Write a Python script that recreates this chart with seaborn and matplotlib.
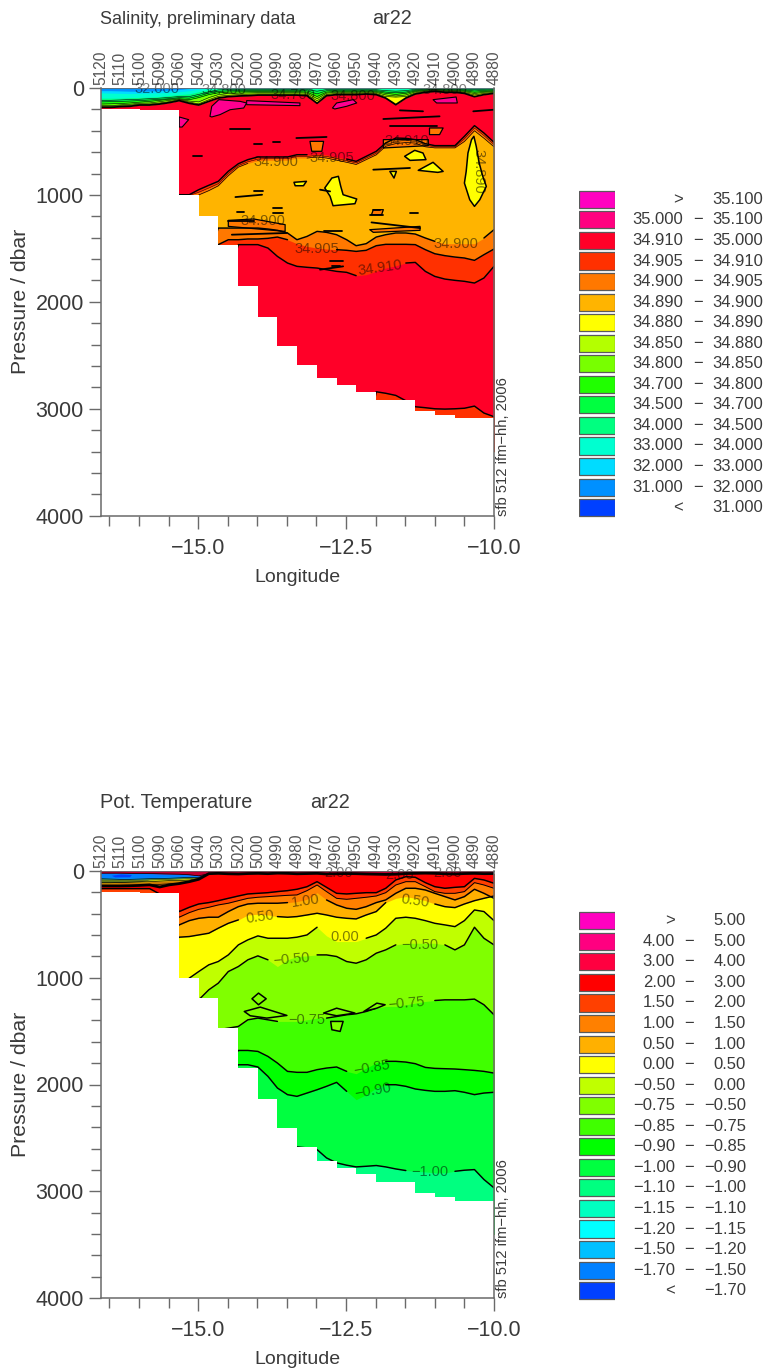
"""Salinity and potential temperature sections, cruise ar22."""
import matplotlib
matplotlib.use("Agg")
import matplotlib.pyplot as plt
import numpy as np
import pandas as pd
import seaborn as sns

W, H = 765, 1371

stations = ["5120", "5110", "5100", "5090", "5060", "5040", "5030", "5020", "5000", "4990", "4980",
            "4970", "4960", "4950", "4940", "4930", "4920", "4910", "4900", "4890", "4880"]
station_lon = [-16.65, -16.32, -15.99, -15.65, -15.32, -14.99, -14.66, -14.32, -13.99, -13.66, -13.33,
               -12.99, -12.66, -12.33, -11.99, -11.66, -11.33, -11.00, -10.66, -10.33, -10.00]
bottom_depth = [195, 195, 210, 210, 1000, 1193, 1467, 1849, 2139, 2410, 2590,
                2715, 2778, 2840, 2918, 2918, 3018, 3058, 3090, 3090, 3090]
# stations and the midpoints between them, all isolines are read at these
half_lon = [-16.65, -16.48, -16.32, -16.15, -15.99, -15.82, -15.65, -15.49, -15.32, -15.15, -14.99,
            -14.82, -14.66, -14.49, -14.32, -14.16, -13.99, -13.82, -13.66, -13.49, -13.33, -13.16,
            -12.99, -12.83, -12.66, -12.49, -12.33, -12.16, -11.99, -11.83, -11.66, -11.49, -11.33,
            -11.16, -11.00, -10.83, -10.66, -10.50, -10.33, -10.17, -10.00]

# salinity isolines, dbar
sal_320 = [25, 25, 27, 30, 30, 28, 25, 20, 15, 5, 0] + [0] * 30
sal_330 = [45, 48, 50, 52, 50, 48, 45, 40, 35, 25, 10] + [0] * 30
sal_340 = [95, 95, 95, 90, 88, 85, 80, 70, 62, 55, 35, 15, 6, 5, 5, 5, 5, 5, 5, 5, 5, 5, 8, 5, 5, 5, 5, 5, 5,
           10, 14, 10, 5, 4, 4, 4, 4, 4, 6, 5, 4]
sal_345 = [115, 115, 112, 108, 105, 100, 95, 88, 80, 80, 60, 35, 18, 15, 15, 15, 14, 14, 14, 14, 14, 15, 30, 15,
           14, 14, 14, 14, 16, 25, 30, 25, 12, 8, 8, 8, 8, 10, 15, 12, 10]
sal_347 = [130, 128, 125, 122, 118, 112, 106, 100, 90, 95, 75, 48, 32, 26, 25, 25, 24, 24, 24, 24, 24, 26, 55, 26,
           24, 24, 24, 22, 25, 38, 45, 38, 20, 14, 12, 14, 14, 18, 28, 22, 18]
sal_348 = [150, 148, 145, 140, 132, 125, 115, 106, 100, 110, 90, 62, 45, 38, 36, 35, 34, 34, 34, 34, 34, 38, 80, 38,
           32, 32, 32, 30, 34, 50, 60, 50, 28, 20, 16, 20, 20, 26, 40, 32, 26]
sal_3485 = [165, 165, 158, 152, 142, 140, 128, 116, 105, 122, 130, 90, 62, 52, 48, 46, 44, 44, 44, 44, 44, 48, 100,
            48, 40, 40, 40, 38, 42, 65, 75, 65, 36, 26, 20, 26, 26, 34, 52, 40, 34]
sal_3488 = [172, 172, 166, 162, 150, 150, 140, 128, 110, 132, 148, 110, 78, 68, 62, 58, 55, 55, 55, 55, 55, 60, 120,
            60, 50, 50, 50, 46, 52, 80, 85, 80, 46, 32, 25, 32, 32, 42, 65, 50, 42]
sal_top = [181, 181, 175, 171, 159, 159, 150, 137, 118, 143, 159, 125, 94, 81, 75, 72, 66, 66, 66, 66, 66, 72, 143,
           72, 62, 62, 62, 56, 62, 94, 156, 94, 56, 40, 31, 40, 40, 50, 81, 62, 50]
sal_u910 = [1050] * 8 + [998, 998, 951, 910, 873, 779, 708, 670, 645, 645, 645, 645, 624, 624, 614, 624, 645, 664,
                         686, 639, 592, 514, 468, 471, 483, 521, 539, 539, 539, 452, 352, 421, 508]
sal_u905 = [1100] * 9 + [1005, 975, 935, 895, 800, 725, 690, 665, 660, 660, 660, 640, 640, 630, 640, 660, 680, 700,
                         655, 610, 530, 500, 490, 500, 535, 550, 550, 550, 475, 375, 445, 530]
sal_u900 = [1150] * 10 + [1000, 960, 915, 820, 740, 705, 680, 675, 675, 675, 655, 655, 645, 655, 675, 695, 715, 670,
                          625, 545, 520, 510, 515, 550, 560, 560, 560, 500, 400, 470, 550]
sal_l900 = [1600] * 12 + [1310, 1310, 1310, 1310, 1310, 1319, 1331, 1356, 1419, 1388, 1341, 1350, 1372, 1419, 1475,
                          1456, 1394, 1372, 1356, 1356, 1366, 1403, 1434, 1456, 1456, 1456, 1456, 1403, 1325]
sal_l905 = [1600] * 12 + [1465, 1419, 1419, 1412, 1412, 1406, 1394, 1419, 1456, 1481, 1497, 1506, 1512, 1518, 1528,
                          1518, 1475, 1462, 1462, 1462, 1465, 1512, 1550, 1568, 1581, 1590, 1612, 1559, 1506]
sal_l910 = [1800] * 14 + [1465, 1465, 1465, 1497, 1575, 1637, 1668, 1677, 1684, 1699, 1715, 1724, 1755, 1746, 1715,
                          1684, 1662, 1637, 1631, 1715, 1762, 1787, 1799, 1808, 1824, 1777, 1668]
sal_d910 = [3300] * 28 + [2841, 2855, 2875, 2925, 2981, 2990, 3000, 3003, 3000, 2995, 2975, 3040, 3074]

# closed patches in the salinity section: (lon, dbar) outlines
sal_pink = [
    [(-14.80, 265), (-14.77, 171), (-14.65, 109), (-14.29, 125), (-14.18, 140), (-14.23, 187), (-14.46, 203),
     (-14.63, 249), (-14.77, 271)],
    [(-14.18, 118), (-13.28, 140), (-13.28, 165), (-14.18, 156)],
    [(-12.73, 187), (-12.66, 140), (-12.38, 109), (-12.32, 140), (-12.49, 171), (-12.69, 196)],
    [(-11.03, 109), (-10.64, 84), (-10.62, 140), (-10.97, 140)],
    [(-15.32, 271), (-15.16, 296), (-15.27, 365), (-15.32, 365)],
]
sal_yellow = [
    [(-10.34, 452), (-10.30, 546), (-10.25, 702), (-10.19, 826), (-10.13, 920), (-10.24, 1045), (-10.33, 1107),
     (-10.41, 1045), (-10.50, 889), (-10.47, 780), (-10.44, 608), (-10.38, 483)],
    [(-12.74, 842), (-12.63, 826), (-12.59, 920), (-12.55, 998), (-12.32, 1038), (-12.35, 1082), (-12.72, 1101),
     (-12.77, 1013), (-12.86, 935)],
    [(-11.51, 639), (-11.34, 583), (-11.20, 608), (-11.15, 670), (-11.42, 677)],
    [(-11.28, 770), (-11.03, 695), (-10.86, 780), (-10.95, 789)],
    [(-13.38, 882), (-13.17, 873), (-13.22, 914), (-13.36, 914)],
    [(-11.76, 780), (-11.65, 780), (-11.69, 842)],
]
sal_orange = [
    [(-13.11, 499), (-12.88, 499), (-12.91, 592), (-13.08, 592)],
    [(-14.49, 1238), (-14.06, 1225), (-13.53, 1278), (-13.53, 1341), (-14.49, 1294)],
    [(-12.10, 1325), (-11.25, 1294), (-11.25, 1331), (-12.04, 1350)],
    [(-11.87, 483), (-11.11, 483), (-11.11, 539), (-11.87, 561)],
    [(-11.09, 374), (-10.86, 374), (-10.92, 436), (-11.09, 436)],
    [(-12.04, 1138), (-11.87, 1138), (-11.90, 1185), (-12.07, 1185)],
]
# short closed contours too small to show colour
speck_lon0 = [-12.04, -14.37, -14.06, -14.46, -15.08, -14.06, -13.73, -13.34, -11.87, -11.76, -11.59, -10.35, -12.07,
              -11.42, -13.73, -13.73, -14.49, -14.43, -12.77, -12.94, -12.88, -12.74, -12.94, -14.35, -12.04, -12.10]
speck_lon1 = [-11.42, -13.92, -13.90, -14.12, -14.94, -13.92, -13.62, -12.83, -10.92, -10.97, -11.20, -10.00, -11.25,
              -11.28, -13.59, -13.56, -14.06, -13.50, -12.55, -12.55, -12.57, -12.60, -12.77, -14.23, -11.93, -11.87]
speck_p0 = [764, 1020, 967, 384, 639, 524, 508, 468, 290, 352, 209, 218, 1257, 1169, 1122, 1169, 1247, 1372, 1621,
            1699, 1341, 1668, 951, 1163, 1138, 1185]
speck_p1 = [748, 998, 967, 384, 639, 524, 508, 458, 265, 352, 218, 203, 1310, 1169, 1122, 1169, 1247, 1356, 1621,
            1668, 1341, 1668, 967, 1163, 1138, 1185]

sal_label_text = ["34.900", "34.905", "34.900", "34.905", "34.900", "34.910", "34.910", "34.890", "32.000",
                  "34.800", "34.700", "34.800", "34.800"]
sal_label_lon = [-13.68, -12.74, -13.90, -13.00, -10.64, -11.93, -11.48, -10.27, -15.69, -14.57, -13.39, -12.38, -10.83]
sal_label_p = [695, 655, 1247, 1506, 1456, 1684, 499, 780, 9, 22, 62, 72, 22]
sal_label_rot = [0, 0, 0, 0, 0, 8, 0, -90, 0, 0, 0, 0, 0]

# temperature isolines, dbar
temp_cap = [25, 22, 26, 28, 24, 22, 25, 20, 22, 26, 24, 22, 28, 26, 24, 25, 28, 30, 32, 30, 24, 22, 20, 22, 26, 28,
            24, 22, 25, 24]
w_blue = [20, 20, 20, 22, 22, 24, 26, 28, 30, 35, 45] + temp_cap
w_cyan = [62, 65, 68, 68, 66, 62, 60, 58, 56, 52, 55] + temp_cap
w_green = [72, 75, 78, 78, 75, 72, 70, 68, 64, 60, 60] + temp_cap
w_yellow = [110, 110, 108, 105, 102, 85, 82, 80, 76, 72, 65] + temp_cap
w_orange = [110, 110, 108, 105, 102, 100, 95, 90, 90, 85, 70] + temp_cap
w_orangered = [140, 140, 140, 138, 135, 130, 125, 120, 115, 100, 75] + temp_cap
w_red = [140, 140, 140, 138, 135, 130, 150, 130, 118, 100, 78] + temp_cap
t_200 = [165, 165, 165, 165, 165, 165, 215, 215, 380, 340, 309, 296, 278, 256, 234, 215, 209, 203, 193, 184, 171,
         147, 100, 153, 209, 215, 209, 203, 203, 162, 84, 53, 59, 109, 147, 162, 153, 147, 69, 84, 115]
t_150 = [300] * 8 + [433, 390, 359, 340, 318, 302, 278, 256, 246, 240, 234, 228, 224, 184, 131, 193, 256, 265, 256,
                     246, 234, 203, 131, 100, 100, 147, 193, 209, 209, 193, 109, 131, 162]
t_100 = [600] * 8 + [505, 465, 443, 433, 433, 380, 334, 309, 302, 302, 302, 296, 287, 265, 203, 271, 318, 349, 359,
                     334, 296, 271, 209, 162, 162, 178, 209, 240, 271, 240, 171, 209, 256]
t_050 = [700] * 8 + [620, 614, 599, 583, 536, 490, 458, 412, 405, 412, 427, 433, 427, 412, 396, 412, 433, 443, 449,
                     412, 380, 296, 256, 240, 256, 278, 309, 334, 343, 309, 278, 256, 234]
t_000 = [1200] * 8 + [1113, 1004, 942, 879, 848, 786, 692, 645, 608, 630, 630, 630, 620, 599, 527, 608, 661, 661,
                      661, 630, 599, 536, 443, 433, 443, 465, 490, 505, 521, 465, 365, 380, 465]
t_n050 = [1300] * 10 + [1207, 1113, 1051, 942, 895, 832, 795, 832, 895, 832, 801, 795, 786, 786, 801, 848, 864, 832,
                        770, 739, 692, 677, 677, 677, 677, 692, 739, 692, 527, 630, 692]
t_n075 = [1600] * 12 + [1487, 1472, 1456, 1394, 1378, 1394, 1409, 1409, 1409, 1394, 1378, 1378, 1363, 1347, 1338,
                        1316, 1285, 1269, 1269, 1253, 1238, 1222, 1213, 1207, 1207, 1207, 1200, 1253, 1347]
t_n085 = [1800] * 14 + [1681, 1681, 1690, 1737, 1799, 1877, 1886, 1886, 1861, 1846, 1836, 1877, 1899, 1846, 1799,
                        1783, 1783, 1790, 1805, 1840, 1849, 1852, 1855, 1861, 1868, 1877, 1893]
t_n090 = [1900] * 14 + [1815, 1815, 1836, 1924, 2033, 2095, 2111, 2080, 2049, 2017, 1980, 2064, 2142, 2095, 2033,
                        2002, 2002, 2017, 2042, 2055, 2064, 2064, 2058, 2073, 2095, 2080, 2073]
t_n100 = [2900] * 20 + [2585, 2594, 2610, 2688, 2734, 2756, 2772, 2766, 2759, 2772, 2791, 2806, 2813, 2819, 2828,
                        2828, 2813, 2803, 2797, 2890, 2968]

temp_lenses = [
    [(-14.09, 1197), (-13.98, 1144), (-13.85, 1197), (-13.98, 1253)],
    [(-14.22, 1316), (-13.95, 1275), (-13.50, 1353), (-13.84, 1378), (-14.12, 1356)],
    [(-12.88, 1331), (-12.66, 1285), (-12.35, 1331), (-12.66, 1356)],
    [(-12.20, 1316), (-11.98, 1238), (-11.84, 1253), (-11.98, 1285)],
    [(-12.76, 1409), (-12.55, 1409), (-12.60, 1503), (-12.74, 1487)],
]
temp_deep_blue = [(-16.46, 45), (-16.30, 32), (-16.12, 38), (-16.15, 58), (-16.40, 60)]

temp_label_text = ["1.00", "0.50", "0.50", "0.00", "\u22120.50", "\u22120.50", "\u22120.75", "\u22120.75",
                   "\u22120.85", "\u22120.90", "\u22121.00", "2.00", "2.00", "2.00"]
temp_label_lon = [-13.19, -13.95, -11.34, -12.53, -13.42, -11.25, -13.17, -11.48, -12.07, -12.04, -11.09, -10.78,
                  -12.63, -11.60]
temp_label_p = [278, 433, 278, 620, 826, 692, 1394, 1244, 1846, 2064, 2822, 15, 20, 40]
temp_label_rot = [8, 8, -8, 0, 5, 0, 0, 5, 10, 10, 0, 0, 0, 0]

# legends, top row first
sal_lower = [">", "35.000", "34.910", "34.905", "34.900", "34.890", "34.880", "34.850", "34.800", "34.700", "34.500",
             "34.000", "33.000", "32.000", "31.000", "<"]
sal_upper = ["35.100", "35.100", "35.000", "34.910", "34.905", "34.900", "34.890", "34.880", "34.850", "34.800",
             "34.700", "34.500", "34.000", "33.000", "32.000", "31.000"]
sal_colors = ["#FF00C0", "#FF0080", "#FF0028", "#FF3000", "#FF7800", "#FFB400", "#FFFF00", "#B4FF00", "#78FF00",
              "#20FF00", "#00FF40", "#00FF80", "#00FFD0", "#00DCFF", "#0090FF", "#0040FF"]
temp_lower = [">", "4.00", "3.00", "2.00", "1.50", "1.00", "0.50", "0.00", "\u22120.50", "\u22120.75", "\u22120.85",
              "\u22120.90", "\u22121.00", "\u22121.10", "\u22121.15", "\u22121.20", "\u22121.50", "\u22121.70", "<"]
temp_upper = ["5.00", "5.00", "4.00", "3.00", "2.00", "1.50", "1.00", "0.50", "0.00", "\u22120.50", "\u22120.75",
              "\u22120.85", "\u22120.90", "\u22121.00", "\u22121.10", "\u22121.15", "\u22121.20", "\u22121.50",
              "\u22121.70"]
temp_colors = ["#FF00C0", "#FF0080", "#FF0040", "#FF0000", "#FF4000", "#FF8000", "#FFB000", "#FFFF00", "#C0FF00",
               "#80FF00", "#40FF00", "#00FF00", "#00FF40", "#00FF80", "#00FFC0", "#00FFFF", "#00C0FF", "#0080FF",
               "#0040FF"]

GREY = "#6a6a6a"
TEXT = "#3a3a3a"
FILL_END = 3400  # below the deepest bottom_depth

sns.set_theme(style="ticks")
plt.rcParams["font.family"] = ["Liberation Sans", "DejaVu Sans"]

fig = plt.figure(figsize=(W / 100, H / 100), dpi=100, facecolor="white")


def px_axes(left, top, right, bottom):
    return fig.add_axes([left / W, 1 - bottom / H, (right - left) / W, (bottom - top) / H])


def px_text(x, y, s, **kw):
    kw.setdefault("color", TEXT)
    kw.setdefault("va", "center")
    fig.text(x / W, 1 - y / H, s, **kw)


def contour(ax, levels, gaps=(), lw=1.05):
    """Black isoline through half_lon, broken at the lon ranges in gaps."""
    lon = np.array(half_lon)
    keep = np.ones(len(lon), bool)
    for lo, hi in gaps:
        keep &= ~((lon > lo) & (lon < hi))
    seg = np.cumsum(~keep)
    df = pd.DataFrame({"lon": lon, "p": levels, "seg": seg})[keep]
    sns.lineplot(data=df, x="lon", y="p", units="seg", estimator=None, sort=False,
                 color="black", lw=lw, ax=ax, zorder=3)


def section_axes(top, bottom, title, title_size, tag_x):
    ax = px_axes(100.5, top, 494, bottom)
    ax.set_xlim(-16.65, -10)
    ax.set_ylim(4000, 0)
    ax.set_xticks([-15, -12.5, -10], ["\u221215.0", "\u221212.5", "\u221210.0"])
    ax.set_xticks(np.arange(-16.5, -10, 0.5), minor=True)
    ax.set_yticks(range(0, 4001, 1000))
    ax.set_yticks(range(0, 4001, 200), minor=True)
    ax.tick_params(which="major", length=9, width=1, color=GREY, labelcolor=TEXT, labelsize=15.5)
    ax.tick_params(which="minor", length=7, width=1, color=GREY)
    ax.tick_params(axis="x", which="major", pad=7)
    ax.tick_params(axis="y", which="major", pad=3)
    for s in ax.spines.values():
        s.set_color(GREY)
        s.set_linewidth(1.1)
        s.set_zorder(10)
    ax.spines["top"].set_linewidth(0.6)
    trans = ax.get_xaxis_transform()
    for name, lon in zip(stations, station_lon):
        ax.text(lon, 1.008, name, transform=trans, rotation=90, ha="center", va="bottom",
                fontsize=11.2, color="#555555")
    px_text(100, top - 69, title, fontsize=title_size)
    px_text(tag_x, top - 69, "ar22", fontsize=14.3)
    px_text(297, bottom + 62, "Longitude", fontsize=14, ha="center")
    px_text(21, (top + bottom) / 2, "Pressure / dbar", fontsize=15.3, rotation=90, ha="center")
    px_text(503, bottom, "sfb 512 ifm\u2212hh, 2006", fontsize=10.6, rotation=90, ha="center", va="bottom")
    return ax


def paint(ax, levels, colors):
    ax.fill_between(half_lon, 0, FILL_END, color=colors[0], lw=0, zorder=1)
    for lev, col in zip(levels, colors[1:]):
        ax.fill_between(half_lon, lev, FILL_END, color=col, lw=0, zorder=1)


def patches(ax, outlines, color, lw=1.0):
    for outline in outlines:
        ax.fill(*zip(*outline), facecolor=color, edgecolor="black", lw=lw, zorder=3, joinstyle="round")


def finish(ax, texts, lons, ps, rots):
    ax.fill_between(station_lon, bottom_depth, FILL_END + 50, step="post", color="white", lw=0, zorder=5)
    for s, lon, p, rot in zip(texts, lons, ps, rots):
        ax.text(lon, p, s, fontsize=10.5, ha="center", va="center", rotation=rot, color="black",
                alpha=0.5, zorder=6)
    ax.set_xlabel("")
    ax.set_ylabel("")


def legend(top, rows_colors, lower, upper, col_low, col_dash, col_up, col_gt):
    n = len(lower)
    step = 20.55
    lax = px_axes(579, top, 614.5, top + n * step)
    rows = [f"{a}|{b}" for a, b in zip(lower, upper)]
    sns.barplot(x=[1] * n, y=rows, hue=rows, palette=rows_colors, orient="h", width=0.83, legend=False,
                saturation=1, edgecolor="#5a5a5a", linewidth=0.9, ax=lax)
    lax.set_xlim(0, 1)
    lax.set_axis_off()
    for i, (a, b) in enumerate(zip(lower, upper)):
        y = top + (i + 0.5) * step
        if a in "<>":
            px_text(col_gt, y, a, fontsize=12, ha="center")
        else:
            px_text(col_low, y, a, fontsize=12, ha="right")
            px_text(col_dash, y, "\u2212", fontsize=12, ha="center")
        px_text(col_up, y, b, fontsize=12, ha="right")


# salinity panel
ax1 = section_axes(88, 515.7, "Salinity, preliminary data", 13, 372)
sal_levels = [sal_320, sal_330, sal_340, sal_345, sal_347, sal_348, sal_3485, sal_3488, sal_top,
              sal_u910, sal_u905, sal_u900, sal_l900, sal_l905, sal_l910, sal_d910]
paint(ax1, sal_levels, ["#0090FF", "#00DCFF", "#00FFD0", "#00FF80", "#00FF40", "#20FF00", "#78FF00", "#B4FF00",
                        "#FFFF00", "#FF0028", "#FF3000", "#FF7800", "#FFB400", "#FF7800", "#FF3000", "#FF0028",
                        "#FF3000"])
patches(ax1, sal_orange, "#FF7800", lw=0.9)
patches(ax1, sal_yellow, "#FFFF00", lw=1.1)
patches(ax1, sal_pink, "#FF0090", lw=0.8)
for lev in [sal_345, sal_347, sal_348, sal_3485, sal_3488]:
    contour(ax1, lev, lw=0.4)
contour(ax1, sal_top, lw=1.3)
contour(ax1, sal_u910, gaps=[(-13.0, -12.5)])
contour(ax1, sal_u905, lw=0.3)
contour(ax1, sal_u900, gaps=[(-14.0, -13.3)], lw=0.5)
contour(ax1, sal_l900, gaps=[(-11.0, -10.3)])
contour(ax1, sal_l905, gaps=[(-13.35, -12.7)])
contour(ax1, sal_l910, gaps=[(-12.25, -11.6)])
contour(ax1, sal_d910)
speck_df = pd.DataFrame({
    "lon": speck_lon0 + speck_lon1,
    "p": speck_p0 + speck_p1,
    "seg": list(range(len(speck_lon0))) * 2,
})
sns.lineplot(data=speck_df, x="lon", y="p", units="seg", estimator=None, sort=False,
             color="black", lw=1.3, ax=ax1, zorder=4)
finish(ax1, sal_label_text, sal_label_lon, sal_label_p, sal_label_rot)

# temperature panel
ax2 = section_axes(871, 1298, "Pot. Temperature", 14.3, 310)
temp_levels = [w_blue, w_cyan, w_green, w_yellow, w_orange, w_orangered, w_red,
               t_200, t_150, t_100, t_050, t_000, t_n050, t_n075, t_n085, t_n090, t_n100]
paint(ax2, temp_levels, ["#C00030", "#0080FF", "#00C0FF", "#5F7A18", "#FFFF00", "#C87800", "#FF4000", "#FF0000",
                         "#FF4000", "#FF8000", "#FFB000", "#FFFF00", "#C0FF00", "#80FF00", "#40FF00", "#00FF00",
                         "#00FF40", "#00FF80"])
ax2.fill(*zip(*temp_deep_blue), color="#0040FF", lw=0, zorder=2)
for lev in [w_blue, w_green, w_orange, w_orangered]:
    contour(ax2, lev, lw=0.5)
contour(ax2, w_red, lw=2.0)
contour(ax2, t_200)
contour(ax2, t_150, lw=0.7)
contour(ax2, t_100, gaps=[(-13.45, -12.95)])
contour(ax2, t_050, gaps=[(-14.2, -13.7), (-11.7, -11.05)])
contour(ax2, t_000, gaps=[(-12.9, -12.2)])
contour(ax2, t_n050, gaps=[(-13.8, -13.1), (-11.6, -10.9)])
contour(ax2, t_n075, gaps=[(-13.5, -12.85), (-11.85, -11.1)])
contour(ax2, t_n085, gaps=[(-12.45, -11.85)])
contour(ax2, t_n090, gaps=[(-12.35, -11.85)])
contour(ax2, t_n100, gaps=[(-11.45, -10.75)])
patches(ax2, temp_lenses, "#80FF00", lw=1.1)
finish(ax2, temp_label_text, temp_label_lon, temp_label_p, temp_label_rot)

legend(189.1, sal_colors, sal_lower, sal_upper, 683, 698, 763, 678)
legend(910.5, temp_colors, temp_lower, temp_upper, 675, 689, 746, 670)

fig.savefig("out.png", dpi=100)
